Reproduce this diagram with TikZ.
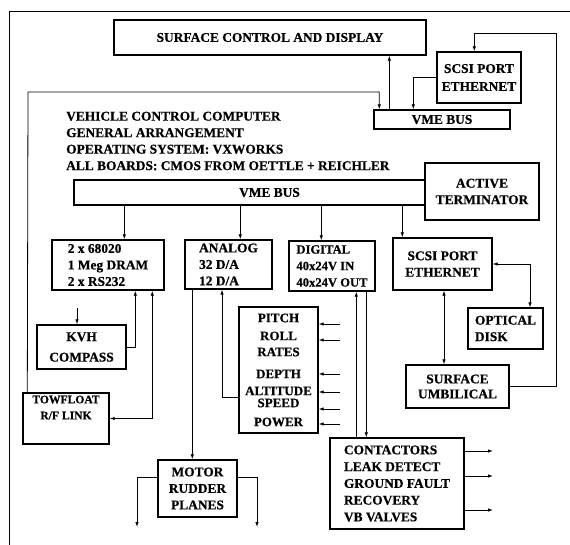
\documentclass[tikz,border=0pt]{standalone}
\usepackage{fontspec}
\setmainfont{Liberation Serif}[BoldFeatures={FakeBold=0.6}]
\usetikzlibrary{arrows.meta,calc}
\begin{document}
\begin{tikzpicture}[x=1pt,y=-1pt,
  lbl/.style={font=\bfseries\fontsize{13.4}{16.5}\selectfont},
  box/.style={draw, line width=1.4pt, inner sep=0pt, align=center, lbl},
  lbox/.style={box, align=left},
  ln/.style={line width=0.8pt},
  arr/.style={ln, -{Latex[length=5pt,width=3.5pt]}},
  arr2/.style={ln, {Latex[length=5pt,width=3.5pt]}-{Latex[length=5pt,width=3.5pt]}},
  txt/.style={lbl, inner sep=0pt, align=left}]
\useasboundingbox (0,0) rectangle (570,545);
% frame
\draw[ln] (9,545) -- (9,11) -- (570,11);
% boxes
\node[box, minimum width=312, minimum height=35] (surf) at (270,37.5) {SURFACE CONTROL AND DISPLAY};
\node[box, minimum width=84, minimum height=51] (scsiA) at (479,77.5) {SCSI PORT\\[1.5pt]ETHERNET};
\node[box, minimum width=136, minimum height=19] (vmeA) at (442,119.5) {VME BUS};
\node[txt, anchor=west] (title) at (66,141) {VEHICLE CONTROL COMPUTER\\GENERAL ARRANGEMENT\\OPERATING SYSTEM: VXWORKS\\ALL BOARDS: CMOS FROM OETTLE + REICHLER};
\node[box, minimum width=351, minimum height=25] (vme) at (249.5,192.5) {\hspace*{40pt}VME BUS};
\node[box, minimum width=114, minimum height=57] (term) at (482,191.5) {ACTIVE\\TERMINATOR};
\node[lbox, minimum width=112, minimum height=50] (cpu) at (108,265) {2 x 68020\\1 Meg DRAM\\2 x RS232};
\node[lbox, minimum width=87, minimum height=49] (ana) at (228.5,264.5) {ANALOG\\32 D/A\\12 D/A};
\node[lbox, minimum width=86, minimum height=50, font=\bfseries\fontsize{12.6}{16.5}\selectfont] (dig) at (332,266) {DIGITAL\\40x24V IN\\40x24V OUT};
\node[box, minimum width=99, minimum height=52] (scsiB) at (442.5,264) {SCSI PORT\\ETHERNET};
\node[box, minimum width=79, minimum height=126, font=\bfseries\fontsize{13}{16}\selectfont] (sen) at (278.5,370) {PITCH\\[2pt]ROLL\\RATES\\[6pt]DEPTH\\[1pt]ALTITUDE\\[-4pt]SPEED\\[3pt]POWER};
\node[box, minimum width=89, minimum height=44] (kvh) at (81.5,347) {KVH\\[4pt]COMPASS};
\node[box, minimum width=86, minimum height=51, font=\bfseries\fontsize{11.6}{16}\selectfont] (tow) at (66,418.5) {TOWFLOAT\\R/F LINK\\[6pt]};
\node[lbox, minimum width=75, minimum height=41] (opt) at (505.5,328.5) {OPTICAL\\DISK};
\node[box, minimum width=103, minimum height=43] (umb) at (457.5,386.5) {SURFACE\\[-1.5pt]UMBILICAL};
\node[box, minimum width=79, minimum height=57] (mot) at (197.5,488.5) {MOTOR\\RUDDER\\PLANES};
\node[lbox, minimum width=134, minimum height=91, font=\bfseries\fontsize{13.4}{16.75}\selectfont] (con) at (397,483.5) {CONTACTORS\\LEAK DETECT\\GROUND FAULT\\RECOVERY\\VB VALVES};
% top connectors
\coordinate (vcc) at (28,92);
\coordinate (loop) at (556,33);
\coordinate (up1) at ($(vmeA.north west)+(16,0)$);
\draw[arr] (up1) -- (up1 |- surf.south);
\draw[arr] (scsiA.west) -| ($(vmeA.north west)+(40,0)$);
\draw[arr] ($(tow.north west)+(5,0)$) -- (vcc) -| ($(vmeA.north west)+(6,0)$);
\draw[arr] (umb.east) -| (loop) -| ($(scsiA.north west)+(38,0)$);
% bus drops
\coordinate (d1) at ($(vme.south west)+(51,0)$);
\coordinate (d2) at ($(vme.south west)+(167,0)$);
\coordinate (d3) at ($(vme.south west)+(248,0)$);
\coordinate (d4) at ($(vme.south west)+(329,0)$);
\draw[arr] (d1) -- (d1 |- cpu.north);
\draw[arr] (d2) -- (d2 |- ana.north);
\draw[arr] (d3) -- (d3 |- dig.north);
\draw[arr] (d4) -- (d4 |- scsiB.north);
% cpu side
\coordinate (kvhin) at (77,308);
\draw[arr] (kvhin) -- (kvhin |- kvh.north);
\draw[arr] (kvh.east) -| ($(cpu.south west)+(84,0)$);
\draw[arr2] ($(cpu.south west)+(101,0)$) |- (tow.east);
% analog
\coordinate (am) at ($(ana.south west)+(8,0)$);
\draw[arr] (am) -- (am |- mot.north);
\coordinate (senout) at (222,397);
\draw[arr] (senout -| sen.west) -- (senout) -- (senout |- ana.south);
\foreach \yy [count=\i] in {324,340,374,392,409,424} {
  \coordinate (sin\i) at (340,\yy);
  \draw[arr] (sin\i) -- (sin\i -| sen.east);
}
% digital
\draw[arr] ($(con.north west)+(27,0)$) -- ($(dig.south west)+(68,0)$);
\draw[arr] ($(dig.south west)+(78,0)$) -- ($(con.north west)+(37,0)$);
\foreach \yy [count=\i] in {451,476,510} {
  \coordinate (cout\i) at (493,\yy);
  \draw[arr] (cout\i -| con.east) -- (cout\i);
}
% motor
\coordinate (ml) at (137,527);
\coordinate (mr) at (257,527);
\draw[arr] ($(mot.west)+(0,-11)$) -| (ml);
\draw[arr] ($(mot.east)+(0,-11)$) -| (mr);
% scsi B
\draw[arr2] (scsiB.east) -| ($(opt.north)+(24.5,0)$);
\draw[arr2] ($(scsiB.south)+(1.5,0)$) -- ($(umb.north)+(-13.5,0)$);
\end{tikzpicture}
\end{document}
